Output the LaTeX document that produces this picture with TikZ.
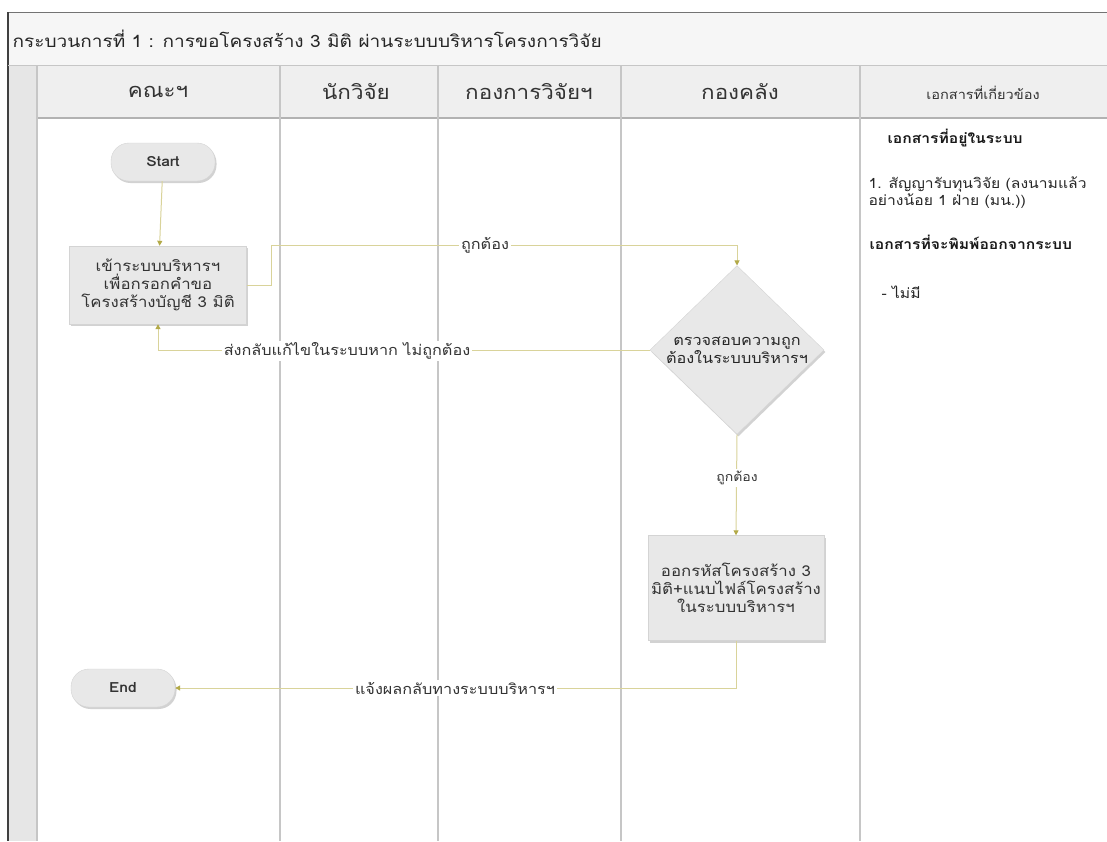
\documentclass[tikz,border=0pt]{standalone}
\usepackage{fontspec}
\setmainfont[Script=Thai,FakeStretch=1.12]{Loma}
\usetikzlibrary{shapes.geometric,shadows,arrows.meta}
\definecolor{conn}{HTML}{D9D39A}
\definecolor{tipc}{HTML}{B3AA48}
\definecolor{nodefill}{HTML}{E8E8E8}
\definecolor{nodeline}{HTML}{D4D4D4}
\definecolor{lanec}{HTML}{C6C6C6}
\definecolor{titlebg}{HTML}{F6F6F6}
\definecolor{headbg}{HTML}{EFEFEF}
\definecolor{stripc}{HTML}{E6E6E6}
\begin{document}
\begin{tikzpicture}[x=1pt,y=-1pt,
  lane/.style={draw=lanec,line width=1.3pt},
  headtxt/.style={font=\fontsize{20}{23}\selectfont,text=black!80},
  shade/.style={drop shadow={shadow xshift=1.5pt,shadow yshift=-2pt,fill=black!35,opacity=0.5}},
  term/.style={shade,draw=nodeline,fill=nodefill,rounded corners=18pt,minimum width=104pt,minimum height=38pt,font=\fontsize{14}{16}\selectfont\bfseries,text=black!80},
  proc/.style={shade,draw=nodeline,fill=nodefill,align=center,font=\fontsize{15}{18}\selectfont,text=black!80,inner sep=1pt},
  decision/.style={shade,diamond,draw=nodeline,fill=nodefill,align=center,font=\fontsize{14.5}{18}\selectfont,text=black!85,inner sep=0pt,minimum width=174pt,minimum height=160pt},
  conn/.style={draw=conn,line width=1pt,-{Triangle[length=5pt,width=5pt,color=tipc]}},
  connlabel/.style={fill=white,inner sep=2pt,font=\fontsize{14.5}{17}\selectfont,text=black!80},
  doctxt/.style={anchor=west,font=\fontsize{14}{17}\selectfont,text=black!85,align=left},
  docbold/.style={anchor=west,font=\fontsize{14}{17}\selectfont\bfseries,text=black!90}
]
\useasboundingbox (0,0) rectangle (1107,841);
\fill[white] (0,0) rectangle (1107,841);
% frame
\fill[titlebg] (8,12) rectangle (1107,65);
\fill[stripc] (8,65) rectangle (37,841);
\fill[headbg] (37,65) rectangle (1107,118);
\draw[black!55,line width=1pt] (8,12) -- (1107,12);
\draw[black!75,line width=1.2pt] (8,12) -- (8,841);
\draw[lanec,line width=1pt] (8,65) -- (1107,65);
\draw[black!30,line width=2pt] (37,118) -- (1107,118);
\foreach \xx in {37,280,438,621,860} \draw[lane] (\xx,65) -- (\xx,841);
% title and headers
\node[anchor=west,font=\fontsize{17}{20}\selectfont,text=black!85] (title) at (9,39) {กระบวนการที่ 1 : การขอโครงสร้าง 3 มิติ ผ่านระบบบริหารโครงการวิจัย};
\node[headtxt] (h1) at (158,92) {คณะฯ};
\node[headtxt] (h2) at (356,92) {นักวิจัย};
\node[headtxt] (h3) at (529,92) {กองการวิจัยฯ};
\node[headtxt] (h4) at (740,92) {กองคลัง};
\node[headtxt,font=\fontsize{13}{15}\selectfont] (h5) at (983,93) {เอกสารที่เกี่ยวข้อง};
% documents
\node[docbold] (d1) at (884,138) {เอกสารที่อยู่ในระบบ};
\node[doctxt] (d2) at (865,193) {1. สัญญารับทุนวิจัย (ลงนามแล้ว\\อย่างน้อย 1 ฝ่าย (มน.))};
\node[docbold] (d3) at (866,242) {เอกสารที่จะพิมพ์ออกจากระบบ};
\node[doctxt] (d4) at (878,292) {- ไม่มี};
% nodes
\node[term] (start) at (163,162) {Start};
\node[proc,minimum width=177pt,minimum height=78pt] (p1) at (158,285) {เข้าระบบบริหารฯ\\เพื่อกรอกคำขอ\\โครงสร้างบัญชี 3 มิติ};
\node[decision] (dec) at (737,350) {ตรวจสอบความถูก\\ต้องในระบบบริหารฯ};
\node[proc,minimum width=176pt,minimum height=105pt] (p2) at (736,588) {ออกรหัสโครงสร้าง 3\\มิติ+แนบไฟล์โครงสร้าง\\ในระบบบริหารฯ};
\node[term] (end) at (123,688) {End};
% connectors
\coordinate (c1) at (271,245);
\draw[conn] (start) -- (p1);
\draw[conn] (p1.east) -| (c1) -| (dec.north);
\node[connlabel] (l1) at (485,245) {ถูกต้อง};
\draw[conn] (dec.west) -| (p1.south);
\node[connlabel] (l2) at (347,351) {ส่งกลับแก้ไขในระบบหาก ไม่ถูกต้อง};
\draw[conn] (dec.south) -- (p2.north);
\node[connlabel,font=\fontsize{12.5}{14}\selectfont] (l3) at (737,478) {ถูกต้อง};
\draw[conn] (p2.south) |- (end.east);
\node[connlabel] (l4) at (455,688) {แจ้งผลกลับทางระบบบริหารฯ};
\end{tikzpicture}
\end{document}
